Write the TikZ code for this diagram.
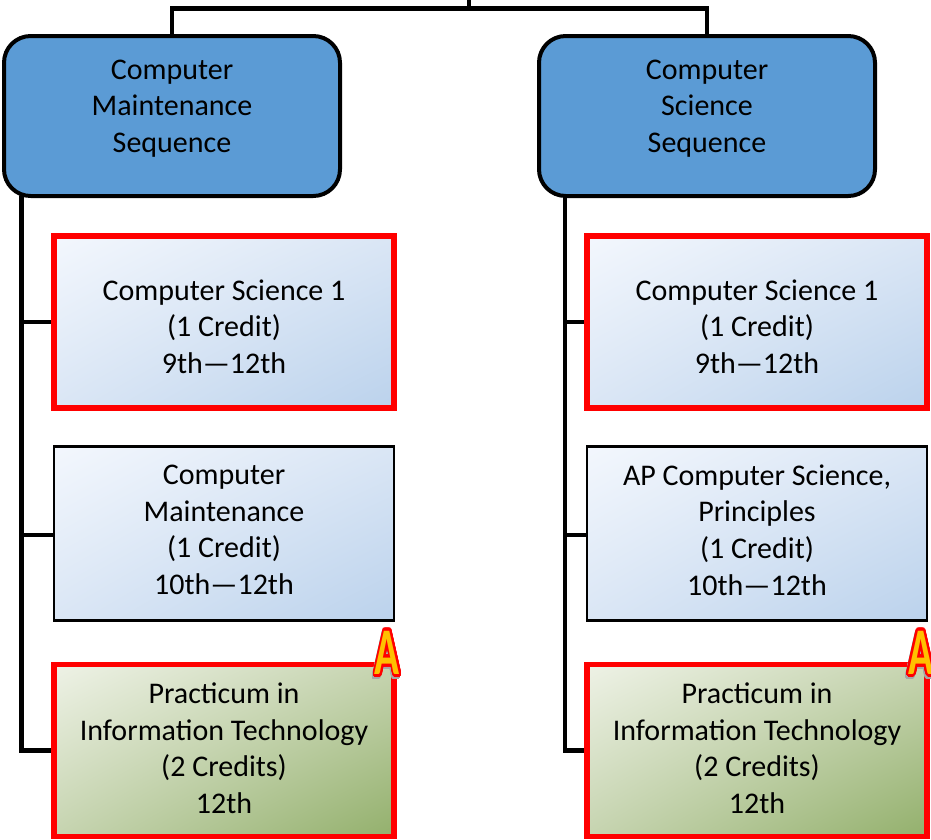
\documentclass[tikz,border=0pt]{standalone}
\usepackage{fontspec}
\setmainfont{Carlito}
\usepackage{contour}
\contournumber{32}
\usetikzlibrary{calc,shadings}
\definecolor{seqblue}{HTML}{5B9BD5}
\definecolor{bl1}{HTML}{F3F7FD}
\definecolor{blm}{HTML}{DAE6F5}
\definecolor{bl2}{HTML}{BBD2EC}
\definecolor{gr1}{HTML}{EEF2E6}
\definecolor{grm}{HTML}{C6D4B0}
\definecolor{gr2}{HTML}{93B06C}
\definecolor{aorange}{HTML}{FFC000}
\tikzset{
  x=0.75pt,y=-0.75pt,
  seqbox/.style={draw=black,line width=3pt,fill=seqblue,rounded corners=20pt,minimum width=252pt,minimum height=120pt,inner sep=0pt},
  bluefill/.style={upper left=bl1,upper right=blm,lower left=blm,lower right=bl2},
  greenfill/.style={upper left=gr1,upper right=grm,lower left=grm,lower right=gr2},
  redbox/.style={draw=red,line width=4.2pt,minimum width=255pt,minimum height=129pt,inner sep=0pt,bluefill},
  plainbox/.style={draw=black,line width=1.8pt,minimum width=255pt,minimum height=130.5pt,inner sep=0pt,bluefill},
  pracbox/.style={draw=red,line width=4.2pt,minimum width=255pt,minimum height=129pt,inner sep=0pt,greenfill},
  lbl/.style={align=center,inner sep=0pt,font=\fontsize{22.5}{27.4}\selectfont,text=black},
  conn/.style={draw=black,line width=3.4pt,line join=miter},
  aw/.style={inner sep=0pt,font=\fontsize{50}{50}\bfseries\selectfont,xscale=0.62},
}
\newcommand{\awordart}[2]{%
  \contourlength{2.2pt}%
  \node[aw,gray!70] (#1s) at ($(#2)+(-1,2.5)$) {\contour{gray!70}{A}};
  \node[aw] (#1) at (#2) {\contour{red}{\textcolor{aorange}{A}}};
}
\begin{document}
\begin{tikzpicture}
\useasboundingbox (0,0) rectangle (931,839);
\clip (0,0) rectangle (931,839);
% sequence heads
\node[seqbox] (ml) at (172,116) {};
\node[seqbox] (sl) at (707,116) {};
\node[lbl] (mlt) at (172,108.5) {Computer\\Maintenance\\Sequence};
\node[lbl] (slt) at (707,108.5) {Computer\\Science\\Sequence};
% top connectors
\coordinate (hub) at (469,-3);
\coordinate (bus) at (469,8.5);
\draw[conn] (ml.north) |- (bus) -| (sl.north);
\draw[conn] (hub) -- (bus);
% left column
\node[redbox] (a1) at (224,322) {};
\node[plainbox] (a2) at (224,533.5) {};
\node[pracbox] (a3) at (224,750.5) {};
\node[lbl] (a1t) at (224,326.5) {Computer Science 1\\(1 Credit)\\9th—12th};
\node[lbl] (a2t) at (224,530) {Computer\\Maintenance\\(1 Credit)\\10th—12th};
\node[lbl] (a3t) at (224,748) {Practicum in\\Information Technology\\(2 Credits)\\12th};
% right column
\node[redbox] (b1) at (757,322) {};
\node[plainbox] (b2) at (757,533.5) {};
\node[pracbox] (b3) at (757,750.5) {};
\node[lbl] (b1t) at (757,326.5) {Computer Science 1\\(1 Credit)\\9th—12th};
\node[lbl] (b2t) at (757,530) {AP Computer Science,\\Principles\\(1 Credit)\\10th—12th};
\node[lbl] (b3t) at (757,748) {Practicum in\\Information Technology\\(2 Credits)\\12th};
% trunks
\coordinate (mtop) at (21.5,196);
\coordinate (stop) at (565,196);
\draw[conn] (mtop) |- (a3.west);
\draw[conn] (mtop |- a1.west) -- (a1.west);
\draw[conn] (mtop |- a2.west) ++(0,1.5) -- ++(32,0);
\draw[conn] (stop) |- (b3.west);
\draw[conn] (stop |- b1.west) -- (b1.west);
\draw[conn] (stop |- b2.west) ++(0,1.5) -- ++(22,0);
% stars
\coordinate (apos) at (387.5,654);
\coordinate (bpos) at (921,654);
\awordart{aa}{apos}
\awordart{ab}{bpos}
\end{tikzpicture}
\end{document}
